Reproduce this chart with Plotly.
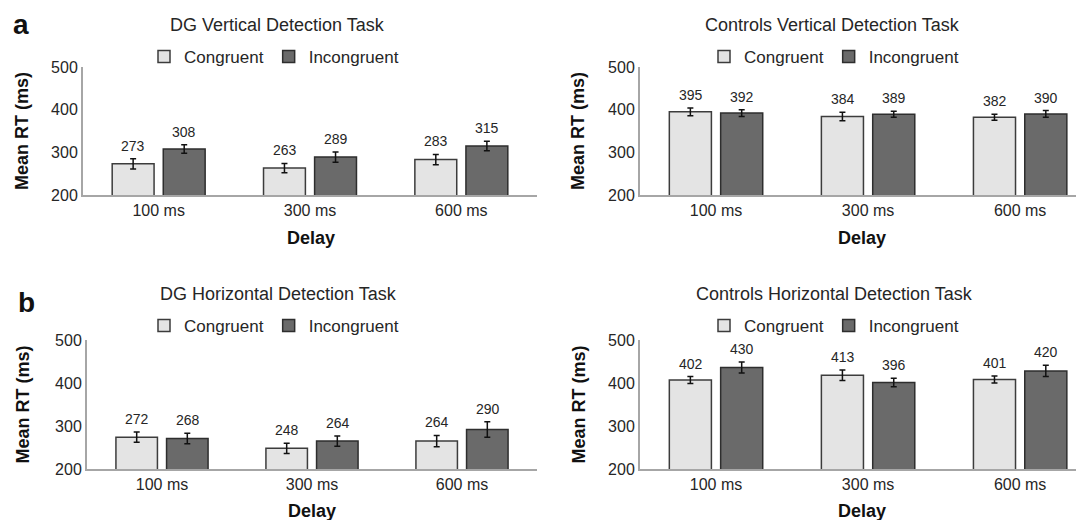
import plotly.graph_objects as go

# ---------------- data ----------------
delays = ["100 ms", "300 ms", "600 ms"]
series_names = ["Congruent", "Incongruent"]

panel_titles = [
    "DG Vertical Detection Task",
    "Controls Vertical Detection Task",
    "DG Horizontal Detection Task",
    "Controls Horizontal Detection Task",
]

# bar heights as drawn (ms)
dgv_cong = [273, 263, 283]
dgv_incong = [308, 289, 315]
ctv_cong = [395, 384, 382]
ctv_incong = [392, 389, 390]
dgh_cong = [274, 248, 265]
dgh_incong = [271, 265, 292]
cth_cong = [407, 418, 408]
cth_incong = [436, 401, 428]

# printed value labels
dgv_cong_lbl = ["273", "263", "283"]
dgv_incong_lbl = ["308", "289", "315"]
ctv_cong_lbl = ["395", "384", "382"]
ctv_incong_lbl = ["392", "389", "390"]
dgh_cong_lbl = ["272", "248", "264"]
dgh_incong_lbl = ["268", "264", "290"]
cth_cong_lbl = ["402", "413", "401"]
cth_incong_lbl = ["430", "396", "420"]

# error bars (ms)
dgv_cong_err = [12, 11, 12]
dgv_incong_err = [10, 12, 11]
ctv_cong_err = [9, 10, 7]
ctv_incong_err = [8, 7, 8]
dgh_cong_err = [12, 12, 13]
dgh_incong_err = [12, 12, 18]
cth_cong_err = [8, 12, 8]
cth_incong_err = [13, 10, 13]

y_ticks = [200, 300, 400, 500]

panels = [
    (dgv_cong, dgv_incong, dgv_cong_lbl, dgv_incong_lbl, dgv_cong_err, dgv_incong_err),
    (ctv_cong, ctv_incong, ctv_cong_lbl, ctv_incong_lbl, ctv_cong_err, ctv_incong_err),
    (dgh_cong, dgh_incong, dgh_cong_lbl, dgh_incong_lbl, dgh_cong_err, dgh_incong_err),
    (cth_cong, cth_incong, cth_cong_lbl, cth_incong_lbl, cth_cong_err, cth_incong_err),
]

# ---------------- layout geometry ----------------
OFF = 8                      # page body margin
W, H = 1084 - OFF, 520 - OFF
FONT = "Liberation Sans, Arial, sans-serif"
TXT = "#262626"

def px_x(p):
    return (p - OFF) / W

def px_y(p):
    return 1 - (p - OFF) / H

domains = [
    ([px_x(83), px_x(537)], [px_y(195), px_y(67)], [-0.5, 2.5]),
    ([px_x(640), 1.0], [px_y(195), px_y(67)], [-0.5, 2.42]),
    ([px_x(87), px_x(537)], [px_y(469), px_y(340)], [-0.5, 2.5]),
    ([px_x(640), 1.0], [px_y(469), px_y(340)], [-0.5, 2.42]),
]
title_pos = [(277, 25), (832, 25), (278, 294), (834, 294)]
legend_pos = [(274, 57), (834, 57), (274, 326), (834, 326)]
delay_pos = [(311, 238), (862, 238), (312, 511), (862, 511)]
ylabel_x = [22, 578, 22, 578]

colors = ["#e4e4e4", "#6a6a6a"]
outline = ["#3c3c3c", "#2e2e2e"]

fig = go.Figure()
annotations = []
layout_upd = {}

for i, (c, inc, cl, il, ce, ie) in enumerate(panels):
    n = "" if i == 0 else str(i + 1)
    xa, ya = "x" + n, "y" + n
    lg = "legend" + n
    for k, (vals, lbls, errs) in enumerate([(c, cl, ce), (inc, il, ie)]):
        fig.add_trace(go.Bar(
            x=delays, y=vals, name=series_names[k],
            xaxis=xa, yaxis=ya, legend=lg,
            marker=dict(color=colors[k], line=dict(color=outline[k], width=1.5)),
            error_y=dict(type="data", array=errs, visible=True,
                         color="#111111", thickness=1.5, width=3),
            offsetgroup=str(k), showlegend=True,
        ))
        for j in range(len(delays)):
            annotations.append(dict(
                x=delays[j], y=vals[j] + errs[j], xref=xa, yref=ya,
                text=lbls[j], showarrow=False, yanchor="bottom",
                xshift=(-25.5 if k == 0 else 25.5), yshift=3,
                font=dict(family=FONT, size=14, color=TXT),
            ))
    dx, dy, xr = domains[i]
    layout_upd["xaxis" + n] = dict(
        domain=dx, anchor=ya, type="category", range=xr,
        showline=True, linecolor="#a6a6a6", linewidth=2,
        ticks="", showgrid=False, zeroline=False,
        tickfont=dict(family=FONT, size=16, color=TXT),
    )
    layout_upd["yaxis" + n] = dict(
        domain=dy, anchor=xa, range=[200, 500], tickvals=y_ticks,
        showline=True, linecolor="#a6a6a6", linewidth=2,
        ticks="", showgrid=False, zeroline=False,
        tickfont=dict(family=FONT, size=16, color=TXT),
    )
    lx, ly = legend_pos[i]
    layout_upd[lg] = dict(
        x=px_x(lx), y=px_y(ly), xanchor="center", yanchor="middle",
        orientation="h", bgcolor="rgba(0,0,0,0)",
        font=dict(family=FONT, size=17, color=TXT),
        itemwidth=30, tracegroupgap=0,
    )
    tx, ty = title_pos[i]
    annotations.append(dict(
        x=px_x(tx), y=px_y(ty), xref="paper", yref="paper", text=panel_titles[i],
        showarrow=False, xanchor="center", yanchor="middle",
        font=dict(family=FONT, size=18, color=TXT),
    ))
    ddx, ddy = delay_pos[i]
    annotations.append(dict(
        x=px_x(ddx), y=px_y(ddy), xref="paper", yref="paper", text="<b>Delay</b>",
        showarrow=False, xanchor="center", yanchor="middle",
        font=dict(family=FONT, size=18, color="#111111"),
    ))
    ycen = (dy[0] + dy[1]) / 2
    annotations.append(dict(
        x=px_x(ylabel_x[i]), y=ycen, xref="paper", yref="paper",
        text="<b>Mean RT (ms)</b>", textangle=-90,
        showarrow=False, xanchor="center", yanchor="middle",
        font=dict(family=FONT, size=18, color="#111111"),
    ))

for letter, (lx, ly) in [("a", (21, 24)), ("b", (26, 302))]:
    annotations.append(dict(
        x=px_x(lx), y=px_y(ly), xref="paper", yref="paper", text="<b>%s</b>" % letter,
        showarrow=False, xanchor="center", yanchor="middle",
        font=dict(family=FONT, size=28, color="#111111"),
    ))

fig.update_layout(
    width=W, height=H,
    margin=dict(l=0, r=0, t=0, b=0, autoexpand=False),
    paper_bgcolor="white", plot_bgcolor="white",
    barmode="group", bargap=0.325, bargroupgap=0.18,
    annotations=annotations,
    font=dict(family=FONT, color=TXT),
    **layout_upd,
)

fig.write_html("out.html")
